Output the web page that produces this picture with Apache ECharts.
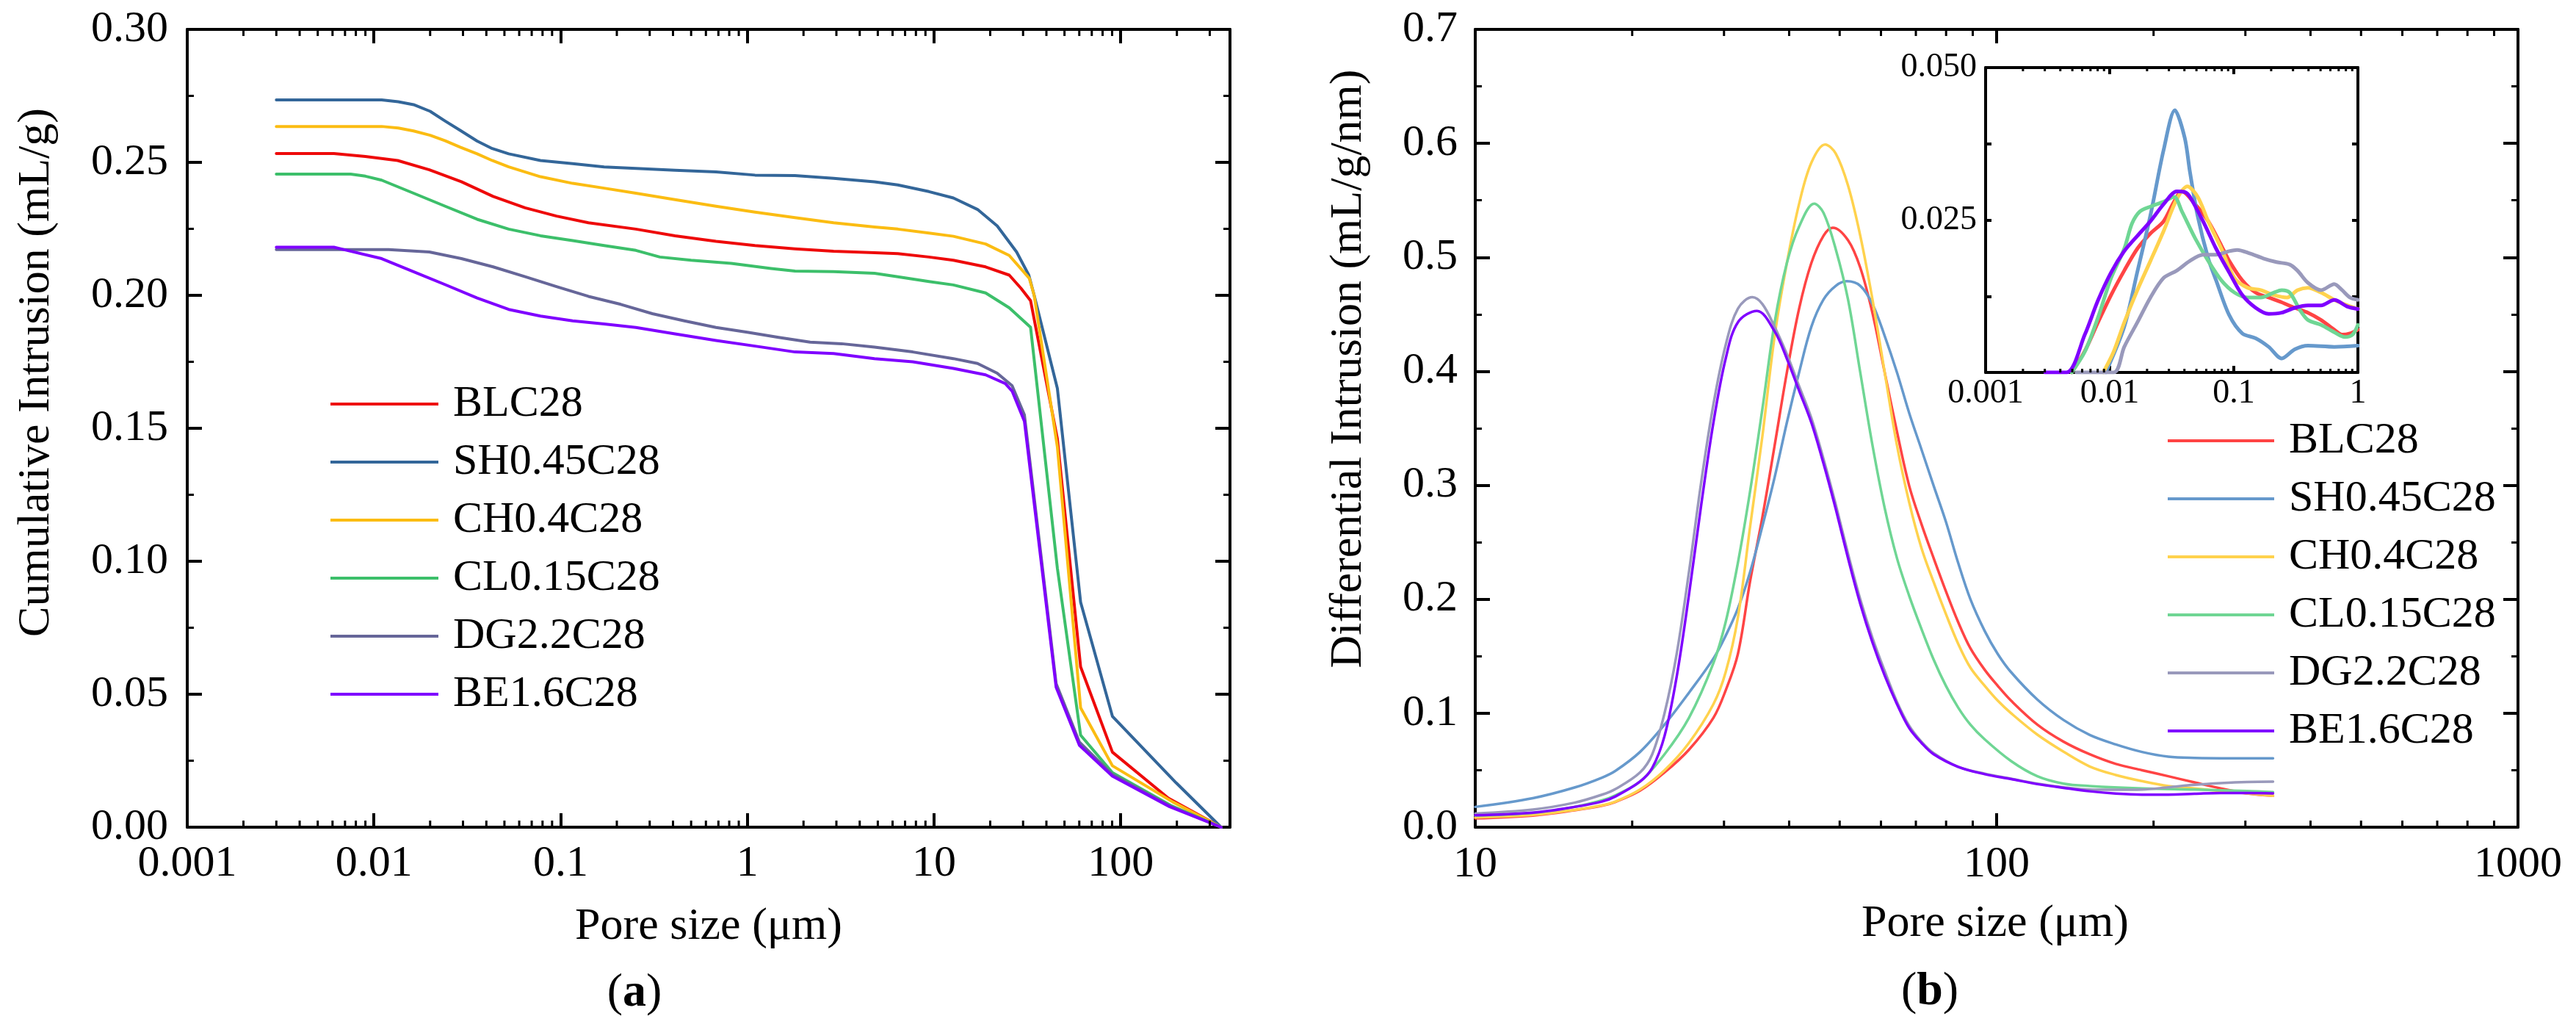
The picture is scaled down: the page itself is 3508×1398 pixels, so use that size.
<!DOCTYPE html>
<html>
<head>
<meta charset="utf-8">
<title>Pore size distribution</title>
<script src="https://cdn.jsdelivr.net/npm/echarts@6.0.0/dist/echarts.min.js"></script>
<style>
html, body { margin: 0; padding: 0; background: #fff; }
#main { width: 3508px; height: 1398px; }
</style>
</head>
<body>
<div id="main"></div>
<script>
//样品名称
var names = ['BLC28', 'SH0.45C28', 'CH0.4C28', 'CL0.15C28', 'DG2.2C28', 'BE1.6C28'];
var colorsA = ['#ee0a0a', '#336699', '#fbbc12', '#3cbf6a', '#666699', '#7f00ff'];
var colorsB = ['#ff4444', '#6699cc', '#ffd24d', '#6fd694', '#9999bb', '#7f00ff'];

//(a) 累计进汞量 [孔径 μm, mL/g]
var cumBLC = [[0.003,0.2533],[0.0061,0.2533],[0.009,0.2522],[0.0134,0.2507],[0.0198,0.2472],[0.0294,0.2427],[0.0435,0.2372],[0.0645,0.2329],[0.095,0.2298],[0.141,0.2273],[0.253,0.2249],[0.41,0.2224],[0.68,0.2203],[1.1,0.2187],[1.8,0.2175],[2.9,0.2166],[4.8,0.216],[6.4,0.2157],[9.4,0.2144],[12.7,0.2132],[18.9,0.2107],[25.3,0.2076],[29.2,0.2027],[32.9,0.198],[45.8,0.146],[61,0.0603],[90.3,0.0282],[180,0.0109],[345,0]];
var cumSH = [[0.003,0.2735],[0.011,0.2735],[0.0135,0.2728],[0.0163,0.2717],[0.02,0.2692],[0.0241,0.2655],[0.029,0.262],[0.0357,0.258],[0.043,0.2552],[0.0527,0.2532],[0.078,0.2507],[0.116,0.2495],[0.171,0.2483],[0.253,0.2477],[0.41,0.247],[0.68,0.2464],[1.1,0.2452],[1.8,0.245],[2.9,0.244],[4.8,0.2427],[6.4,0.2415],[9.4,0.239],[12.7,0.2366],[17.1,0.2323],[21.8,0.2261],[27.7,0.2163],[32.2,0.2076],[34.4,0.2],[45.8,0.165],[61,0.0846],[90.3,0.0417],[198,0.0167],[345,0]];
var cumCH = [[0.003,0.2635],[0.011,0.2635],[0.0135,0.2629],[0.0163,0.2618],[0.02,0.2602],[0.0241,0.2581],[0.029,0.2557],[0.0357,0.2532],[0.043,0.2507],[0.0527,0.2483],[0.078,0.2446],[0.116,0.2421],[0.171,0.2403],[0.253,0.2384],[0.41,0.236],[0.68,0.2335],[1.1,0.2313],[1.8,0.2292],[2.9,0.2273],[4.8,0.2257],[6.4,0.2249],[9.4,0.2234],[12.7,0.2222],[18.9,0.2193],[25.3,0.215],[32.4,0.2064],[34.4,0.2],[45.8,0.143],[61,0.0449],[90.3,0.0231],[190,0.0095],[345,0]];
var cumCL = [[0.003,0.2456],[0.0075,0.2456],[0.009,0.2448],[0.011,0.2433],[0.0163,0.2384],[0.0241,0.2335],[0.0357,0.2286],[0.0527,0.2249],[0.078,0.2224],[0.116,0.2206],[0.171,0.2187],[0.253,0.2169],[0.34,0.2144],[0.5,0.2132],[0.82,0.212],[1.34,0.2101],[1.8,0.2091],[2.9,0.2089],[4.8,0.2083],[6.4,0.207],[9.4,0.2052],[12.7,0.2039],[18.9,0.2009],[25.3,0.1953],[32.9,0.188],[45.8,0.0974],[61,0.0346],[90.3,0.0205],[185,0.0082],[345,0]];
var cumDG = [[0.003,0.2172],[0.012,0.2172],[0.0198,0.2163],[0.0294,0.2138],[0.0435,0.2107],[0.0645,0.207],[0.095,0.2033],[0.141,0.1996],[0.21,0.1966],[0.31,0.1931],[0.46,0.1904],[0.68,0.1879],[1.0,0.1861],[1.47,0.1842],[2.17,0.1824],[3.2,0.1818],[4.8,0.1805],[7.7,0.1787],[12.7,0.1762],[17.1,0.1744],[21.8,0.1707],[26.2,0.166],[30.5,0.155],[45.1,0.054],[60.1,0.032],[90.3,0.0198],[183,0.008],[345,0]];
var cumBE = [[0.003,0.2181],[0.0061,0.2181],[0.0072,0.2169],[0.011,0.2138],[0.0163,0.2089],[0.0241,0.204],[0.0357,0.199],[0.0527,0.1947],[0.078,0.1922],[0.116,0.1904],[0.171,0.1892],[0.253,0.1879],[0.41,0.1855],[0.68,0.183],[1.1,0.1809],[1.8,0.1787],[2.9,0.1781],[4.8,0.1762],[7.7,0.175],[12.7,0.1725],[18.9,0.1701],[24.1,0.1668],[26.2,0.164],[30.5,0.1526],[45.1,0.0526],[60.1,0.0308],[90.3,0.0192],[183,0.0077],[345,0]];

//(b) 微分进汞量 [孔径 μm, mL/g/nm]
var difBLC = [[10,0.0077],[12.9,0.0102],[15.5,0.0148],[17.5,0.0188],[18.58,0.0222],[20.7,0.032],[23.07,0.048],[25.7,0.068],[28.63,0.096],[30.22,0.12],[31.9,0.152],[33.67,0.216],[35.54,0.272],[37.52,0.335],[39.6,0.399],[41.8,0.455],[44.12,0.495],[46.56,0.519],[48.5,0.526],[51.88,0.515],[54.76,0.491],[57.8,0.451],[61.0,0.399],[64.4,0.347],[67.97,0.2995],[71.75,0.266],[75.73,0.236],[79.94,0.207],[84.37,0.18],[89.06,0.157],[94.9,0.138],[100.5,0.124],[106.6,0.111],[119.7,0.09],[134.4,0.075],[150.8,0.064],[169.3,0.0555],[190.1,0.05],[213.4,0.0447],[239.6,0.0393],[269,0.034],[302,0.0297],[339,0.0275]];
var difSH = [[10,0.0178],[12.9,0.0255],[15.5,0.0348],[17.5,0.0435],[18.58,0.0495],[20.7,0.066],[23.07,0.09],[25.7,0.118],[28.63,0.148],[30.22,0.168],[31.9,0.192],[33.67,0.224],[35.54,0.264],[37.52,0.307],[39.6,0.355],[41.8,0.399],[44.12,0.439],[46.56,0.463],[49.15,0.475],[51.6,0.479],[54.76,0.475],[57.8,0.459],[61.0,0.431],[64.4,0.399],[67.97,0.3634],[71.75,0.3315],[75.73,0.2995],[79.94,0.268],[84.37,0.232],[89.06,0.2],[94.9,0.172],[100.5,0.152],[106.6,0.136],[119.7,0.112],[134.4,0.094],[150.8,0.081],[169.3,0.0726],[190.1,0.066],[213.4,0.0619],[239.6,0.0608],[283,0.0605],[339,0.0605]];
var difCH = [[10,0.0086],[12.9,0.0108],[15.5,0.0152],[17.5,0.0192],[18.58,0.0225],[20.7,0.033],[23.07,0.05],[25.7,0.074],[28.63,0.108],[30.22,0.136],[31.9,0.184],[33.67,0.264],[35.54,0.343],[37.52,0.431],[39.6,0.495],[41.8,0.547],[44.12,0.583],[46.9,0.599],[49.15,0.591],[51.88,0.563],[54.76,0.519],[57.8,0.463],[61.0,0.399],[64.4,0.335],[67.97,0.285],[71.75,0.245],[75.73,0.215],[79.94,0.187],[84.37,0.161],[89.06,0.14],[94.9,0.124],[100.5,0.111],[106.6,0.1],[119.7,0.0812],[134.4,0.0662],[150.8,0.0533],[169.3,0.0458],[190.1,0.0404],[213.4,0.0361],[239.6,0.034],[269,0.0318],[302,0.0297],[339,0.0275]];
var difCL = [[10,0.0102],[12.9,0.0125],[15.5,0.0178],[17.5,0.0235],[18.58,0.028],[20.7,0.04],[23.07,0.064],[25.7,0.096],[28.63,0.144],[30.22,0.18],[31.9,0.232],[33.67,0.295],[35.54,0.367],[37.52,0.443],[39.6,0.495],[41.8,0.527],[44.7,0.547],[46.56,0.539],[49.15,0.507],[51.88,0.463],[54.76,0.399],[57.8,0.335],[61.0,0.28],[64.4,0.236],[67.97,0.203],[71.75,0.174],[75.73,0.147],[79.94,0.124],[84.37,0.105],[89.06,0.09],[94.9,0.077],[106.6,0.058],[119.7,0.0447],[134.4,0.0382],[150.8,0.0361],[190.1,0.034],[239.6,0.033],[302,0.0318],[339,0.0308]];
var difDG = [[10,0.012],[12.9,0.0155],[15.5,0.0215],[17.5,0.0285],[18.58,0.0335],[20.7,0.048],[21.85,0.064],[23.07,0.1],[24.34,0.152],[25.7,0.224],[27.13,0.303],[28.63,0.371],[30.22,0.423],[31.9,0.455],[34.0,0.465],[35.54,0.459],[37.52,0.439],[39.6,0.415],[41.8,0.387],[44.12,0.359],[46.56,0.323],[49.15,0.283],[51.88,0.24],[54.76,0.2],[57.8,0.166],[61,0.137],[64.4,0.11],[67.97,0.089],[71.75,0.075],[75.73,0.065],[84.37,0.053],[94.9,0.047],[106.6,0.0426],[119.7,0.0382],[134.4,0.035],[150.8,0.033],[169.3,0.0328],[190.1,0.033],[213.4,0.035],[239.6,0.0372],[269,0.0387],[302,0.0397],[339,0.04]];
var difBE = [[10,0.0105],[12.9,0.0128],[15.5,0.0178],[17.5,0.0225],[18.58,0.027],[20.7,0.04],[21.85,0.052],[23.07,0.08],[24.34,0.132],[25.7,0.204],[27.13,0.283],[28.63,0.355],[30.22,0.411],[31.9,0.443],[34.7,0.453],[37.52,0.435],[39.6,0.411],[41.8,0.383],[44.12,0.355],[46.56,0.319],[49.15,0.279],[51.88,0.236],[54.76,0.196],[57.8,0.162],[61,0.133],[64.4,0.108],[67.97,0.087],[71.75,0.074],[75.73,0.064],[84.37,0.053],[94.9,0.0465],[106.6,0.0422],[119.7,0.0378],[134.4,0.0345],[150.8,0.0315],[169.3,0.0295],[190.1,0.0286],[213.4,0.0286],[239.6,0.0293],[269,0.03],[302,0.03],[339,0.0297]];

//(b) 插图 0.001-1 μm
var insBLC = [[0.00494,0],[0.0063,0.0035],[0.00804,0.0082],[0.01026,0.0127],[0.0131,0.0167],[0.0167,0.0203],[0.0213,0.0228],[0.0272,0.0248],[0.033,0.028],[0.0382,0.0297],[0.0488,0.0276],[0.0622,0.0248],[0.0794,0.0208],[0.0918,0.0183],[0.117,0.0151],[0.150,0.0131],[0.191,0.0123],[0.243,0.0115],[0.31,0.0106],[0.396,0.0098],[0.505,0.0086],[0.645,0.007],[0.746,0.0062],[0.863,0.0064],[1.0,0.007]];
var insSH = [[0.0093,0],[0.0131,0.0075],[0.0167,0.0165],[0.0213,0.0258],[0.0272,0.0365],[0.0335,0.043],[0.0402,0.0385],[0.0443,0.0329],[0.0512,0.0256],[0.0622,0.0187],[0.072,0.0151],[0.0918,0.0094],[0.117,0.0064],[0.15,0.0056],[0.191,0.0042],[0.243,0.0023],[0.31,0.0038],[0.396,0.0044],[0.645,0.0042],[1.0,0.0044]];
var insCH = [[0.00887,0],[0.01076,0.0034],[0.0131,0.0082],[0.0167,0.0135],[0.0213,0.0183],[0.0272,0.0232],[0.0347,0.0284],[0.0422,0.0305],[0.0512,0.0288],[0.0622,0.0248],[0.0794,0.0203],[0.1012,0.0155],[0.129,0.0139],[0.165,0.0135],[0.21,0.0127],[0.269,0.0123],[0.326,0.0135],[0.396,0.0139],[0.505,0.0131],[0.645,0.0119],[0.822,0.011],[1.0,0.0104]];
var insCL = [[0.00494,0],[0.0063,0.0034],[0.00804,0.009],[0.01026,0.0155],[0.0131,0.0203],[0.0151,0.0244],[0.0175,0.0264],[0.0213,0.0272],[0.0272,0.028],[0.033,0.0288],[0.0382,0.0264],[0.0488,0.022],[0.0622,0.0183],[0.0794,0.0151],[0.1012,0.0131],[0.129,0.0123],[0.165,0.0123],[0.21,0.0131],[0.243,0.0135],[0.282,0.0131],[0.342,0.0102],[0.396,0.0086],[0.505,0.0078],[0.645,0.0066],[0.784,0.0058],[0.906,0.0062],[1.0,0.0078]];
var insDG = [[0.0054,0],[0.01076,0],[0.0131,0.0042],[0.0167,0.0082],[0.0213,0.0123],[0.0272,0.0155],[0.0347,0.0167],[0.0443,0.0183],[0.0565,0.0193],[0.072,0.0193],[0.0918,0.0199],[0.1064,0.0201],[0.1356,0.0195],[0.173,0.0187],[0.221,0.0181],[0.282,0.0177],[0.326,0.0167],[0.396,0.0147],[0.505,0.0135],[0.645,0.0145],[0.746,0.0135],[0.863,0.0123],[1.0,0.0119]];
var insBE = [[0.00303,0],[0.00449,0],[0.0063,0.0062],[0.00804,0.0118],[0.01026,0.0164],[0.0131,0.0199],[0.0167,0.0224],[0.0213,0.0248],[0.0272,0.0276],[0.0347,0.0297],[0.0402,0.0296],[0.0443,0.0288],[0.0565,0.0248],[0.072,0.0203],[0.0918,0.0164],[0.117,0.0127],[0.150,0.0106],[0.191,0.0096],[0.243,0.0098],[0.31,0.0106],[0.396,0.011],[0.505,0.011],[0.645,0.0119],[0.822,0.0108],[1.0,0.0104]];

//刻度
var cumXTicks = [0.001, 0.01, 0.1, 1, 10, 100];
var cumXLabels = ['0.001', '0.01', '0.1', '1', '10', '100'];
var cumXMinor = [0.002,0.003,0.004,0.005,0.006,0.007,0.008,0.009,0.02,0.03,0.04,0.05,0.06,0.07,0.08,0.09,0.2,0.3,0.4,0.5,0.6,0.7,0.8,0.9,2,3,4,5,6,7,8,9,20,30,40,50,60,70,80,90,200,300];
var cumYLabels = ['0.00', '0.05', '0.10', '0.15', '0.20', '0.25', '0.30'];
var difXTicks = [10, 100, 1000];
var difXLabels = ['10', '100', '1000'];
var difXMinor = [20,30,40,50,60,70,80,90,200,300,400,500,600,700,800,900];
var difYLabels = ['0.0', '0.1', '0.2', '0.3', '0.4', '0.5', '0.6', '0.7'];
var insXTicks = [0.001, 0.01, 0.1, 1];
var insXLabels = ['0.001', '0.01', '0.1', '1'];
var insXMinor = [0.002,0.003,0.004,0.005,0.006,0.007,0.008,0.009,0.02,0.03,0.04,0.05,0.06,0.07,0.08,0.09,0.2,0.3,0.4,0.5,0.6,0.7,0.8,0.9];
var insYLabels = ['', '', '0.025', '', '0.050'];

var FONT = 'Liberation Serif';

var logFormatter = function(ticks, labels) {
	return function(v) {
		for(var i = 0; i < ticks.length; i++) {
			if(Math.abs(Math.log10(v) - Math.log10(ticks[i])) < 0.02) {
				return labels[i];
			}
		}
		return '';
	};
};

//对数横轴（主刻度+镜像）
var logAxis = function(grid, pos, min, max, labelOpt, tickLen) {
	return {
		type: 'log',
		logBase: 10,
		gridIndex: grid,
		position: pos,
		min: min,
		max: max,
		axisLine: { show: true, onZero: false, lineStyle: { color: '#000', width: 4 } },
		axisTick: { show: true, inside: true, length: tickLen, lineStyle: { color: '#000', width: 4 } },
		minorTick: { show: false },
		splitLine: { show: false },
		axisLabel: labelOpt
	};
};

var valueAxis = function(grid, pos, max, interval, labelOpt, tickLen, minorLen) {
	return {
		type: 'value',
		gridIndex: grid,
		position: pos,
		min: 0,
		max: max,
		interval: interval,
		axisLine: { show: true, onZero: false, lineStyle: { color: '#000', width: 4 } },
		axisTick: { show: true, inside: true, length: tickLen, lineStyle: { color: '#000', width: 4 } },
		minorTick: { show: minorLen > 0, splitNumber: 2, length: minorLen, lineStyle: { color: '#000', width: 3 } },
		splitLine: { show: false },
		axisLabel: labelOpt
	};
};

var noLabel = { show: false };

var xLabel = function(ticks, labels, size, margin) {
	return {
		show: true, margin: margin, color: '#000', fontFamily: FONT, fontSize: size,
		showMinLabel: true, showMaxLabel: true,
		formatter: logFormatter(ticks, labels)
	};
};

var yLabel = function(labels, step, size, margin) {
	return {
		show: true, margin: margin, color: '#000', fontFamily: FONT, fontSize: size,
		showMinLabel: true, showMaxLabel: true,
		formatter: function(v) { return labels[Math.round(v / step)] || ''; }
	};
};

//对数轴次刻度（2~9倍位置），上下两边向内
var minorTickSeries = function(values, xi, yi, len) {
	return {
		type: 'custom',
		xAxisIndex: xi,
		yAxisIndex: yi,
		silent: true,
		clip: false,
		z: 5,
		data: values.map(function(v) { return [v, 0]; }),
		renderItem: function(params, api) {
			var cs = params.coordSys;
			var px = api.coord([api.value(0), 0])[0];
			var top = cs.y;
			var bottom = cs.y + cs.height;
			return {
				type: 'group',
				children: [{
					type: 'line',
					shape: { x1: px, y1: bottom, x2: px, y2: bottom - len },
					style: { stroke: '#000', lineWidth: 3 }
				}, {
					type: 'line',
					shape: { x1: px, y1: top, x2: px, y2: top + len },
					style: { stroke: '#000', lineWidth: 3 }
				}]
			};
		}
	};
};

var lineSeries = function(name, data, color, xi, yi, width, smooth) {
	return {
		name: name,
		type: 'line',
		xAxisIndex: xi,
		yAxisIndex: yi,
		data: data,
		symbol: 'none',
		showSymbol: false,
		smooth: smooth,
		color: color,
		lineStyle: { color: color, width: width, cap: 'round', join: 'round' },
		emphasis: { disabled: true },
		clip: true
	};
};

var cumData = [cumBLC, cumSH, cumCH, cumCL, cumDG, cumBE];
var difData = [difBLC, difSH, difCH, difCL, difDG, difBE];
var insData = [insBLC, insSH, insCH, insCL, insDG, insBE];

var series = [];
for(var i = 0; i < names.length; i++) {
	series.push(lineSeries(names[i], cumData[i], colorsA[i], 0, 0, 4, false));
}
for(var j = 0; j < names.length; j++) {
	series.push(lineSeries(names[j], difData[j], colorsB[j], 2, 2, 3.5, 0.35));
}
for(var k = 0; k < names.length; k++) {
	series.push(lineSeries(names[k], insData[k], colorsB[k], 4, 4, 5, 0.3));
}
series.push(minorTickSeries(cumXMinor, 0, 0, 9));
series.push(minorTickSeries(difXMinor, 2, 2, 9));
series.push(minorTickSeries(insXMinor, 4, 4, 5));

var legendOf = function(colors, left, top, width) {
	return {
		show: true,
		orient: 'vertical',
		left: left,
		top: top,
		padding: 0,
		itemWidth: width,
		itemHeight: 4,
		itemGap: 19,
		icon: 'rect',
		selectedMode: false,
		itemStyle: { borderWidth: 0 },
		textStyle: { fontFamily: FONT, fontSize: 60, lineHeight: 60, color: '#000', padding: [0, 0, 0, 15] },
		data: names.map(function(n, idx) {
			return { name: n, itemStyle: { color: colors[idx], borderWidth: 0 } };
		})
	};
};

var titleText = function(text, x, y, rot) {
	return {
		type: 'text',
		x: x,
		y: y,
		rotation: rot,
		style: { text: text, fontFamily: FONT, fontSize: 62, fill: '#000', align: 'center', verticalAlign: 'middle' }
	};
};

var panelTag = function(letter, x, y) {
	return {
		type: 'text',
		x: x,
		y: y,
		style: {
			text: '{p|(}{b|' + letter + '}{p|)}',
			align: 'center',
			verticalAlign: 'middle',
			rich: {
				p: { fontFamily: FONT, fontSize: 64, fill: '#000' },
				b: { fontFamily: FONT, fontSize: 64, fontWeight: 'bold', fill: '#000' }
			}
		}
	};
};

var option = {
	animation: false,
	backgroundColor: '#fff',
	textStyle: { fontFamily: FONT },
	grid: [
		{ left: 255, top: 40, width: 1420, height: 1086, outerBoundsMode: 'none', containLabel: false },
		{ left: 2009, top: 40, width: 1420, height: 1086, outerBoundsMode: 'none', containLabel: false },
		{ left: 2704, top: 92, width: 507, height: 415, outerBoundsMode: 'none', containLabel: false }
	],
	xAxis: [
		logAxis(0, 'bottom', 0.001, 385, xLabel(cumXTicks, cumXLabels, 60, 20), 19),
		logAxis(0, 'top', 0.001, 385, noLabel, 19),
		logAxis(1, 'bottom', 10, 1000, xLabel(difXTicks, difXLabels, 60, 21), 19),
		logAxis(1, 'top', 10, 1000, noLabel, 19),
		logAxis(2, 'bottom', 0.001, 1, xLabel(insXTicks, insXLabels, 46, 6), 9),
		logAxis(2, 'top', 0.001, 1, noLabel, 9)
	],
	yAxis: [
		valueAxis(0, 'left', 0.3, 0.05, yLabel(cumYLabels, 0.05, 60, 26), 20, 9),
		valueAxis(0, 'right', 0.3, 0.05, noLabel, 20, 9),
		valueAxis(1, 'left', 0.7, 0.1, yLabel(difYLabels, 0.1, 60, 24), 20, 9),
		valueAxis(1, 'right', 0.7, 0.1, noLabel, 20, 9),
		valueAxis(2, 'left', 0.05, 0.0125, yLabel(insYLabels, 0.0125, 46, 12), 8, 0),
		valueAxis(2, 'right', 0.05, 0.0125, noLabel, 8, 0)
	],
	legend: [
		legendOf(colorsA, 450, 520, 147),
		legendOf(colorsB, 2952, 570, 145)
	],
	graphic: [
		titleText('Cumulative Intrusion (mL/g)', 50, 507, Math.PI / 2),
		titleText('Differential Intrusion (mL/g/nm)', 1837, 502, Math.PI / 2),
		titleText('Pore size (μm)', 965, 1262, 0),
		titleText('Pore size (μm)', 2717, 1258, 0),
		panelTag('a', 864, 1352),
		panelTag('b', 2628, 1350)
	],
	series: series
};

var chart = echarts.init(document.getElementById('main'), null, { renderer: 'canvas' });
chart.setOption(option);
</script>
</body>
</html>
